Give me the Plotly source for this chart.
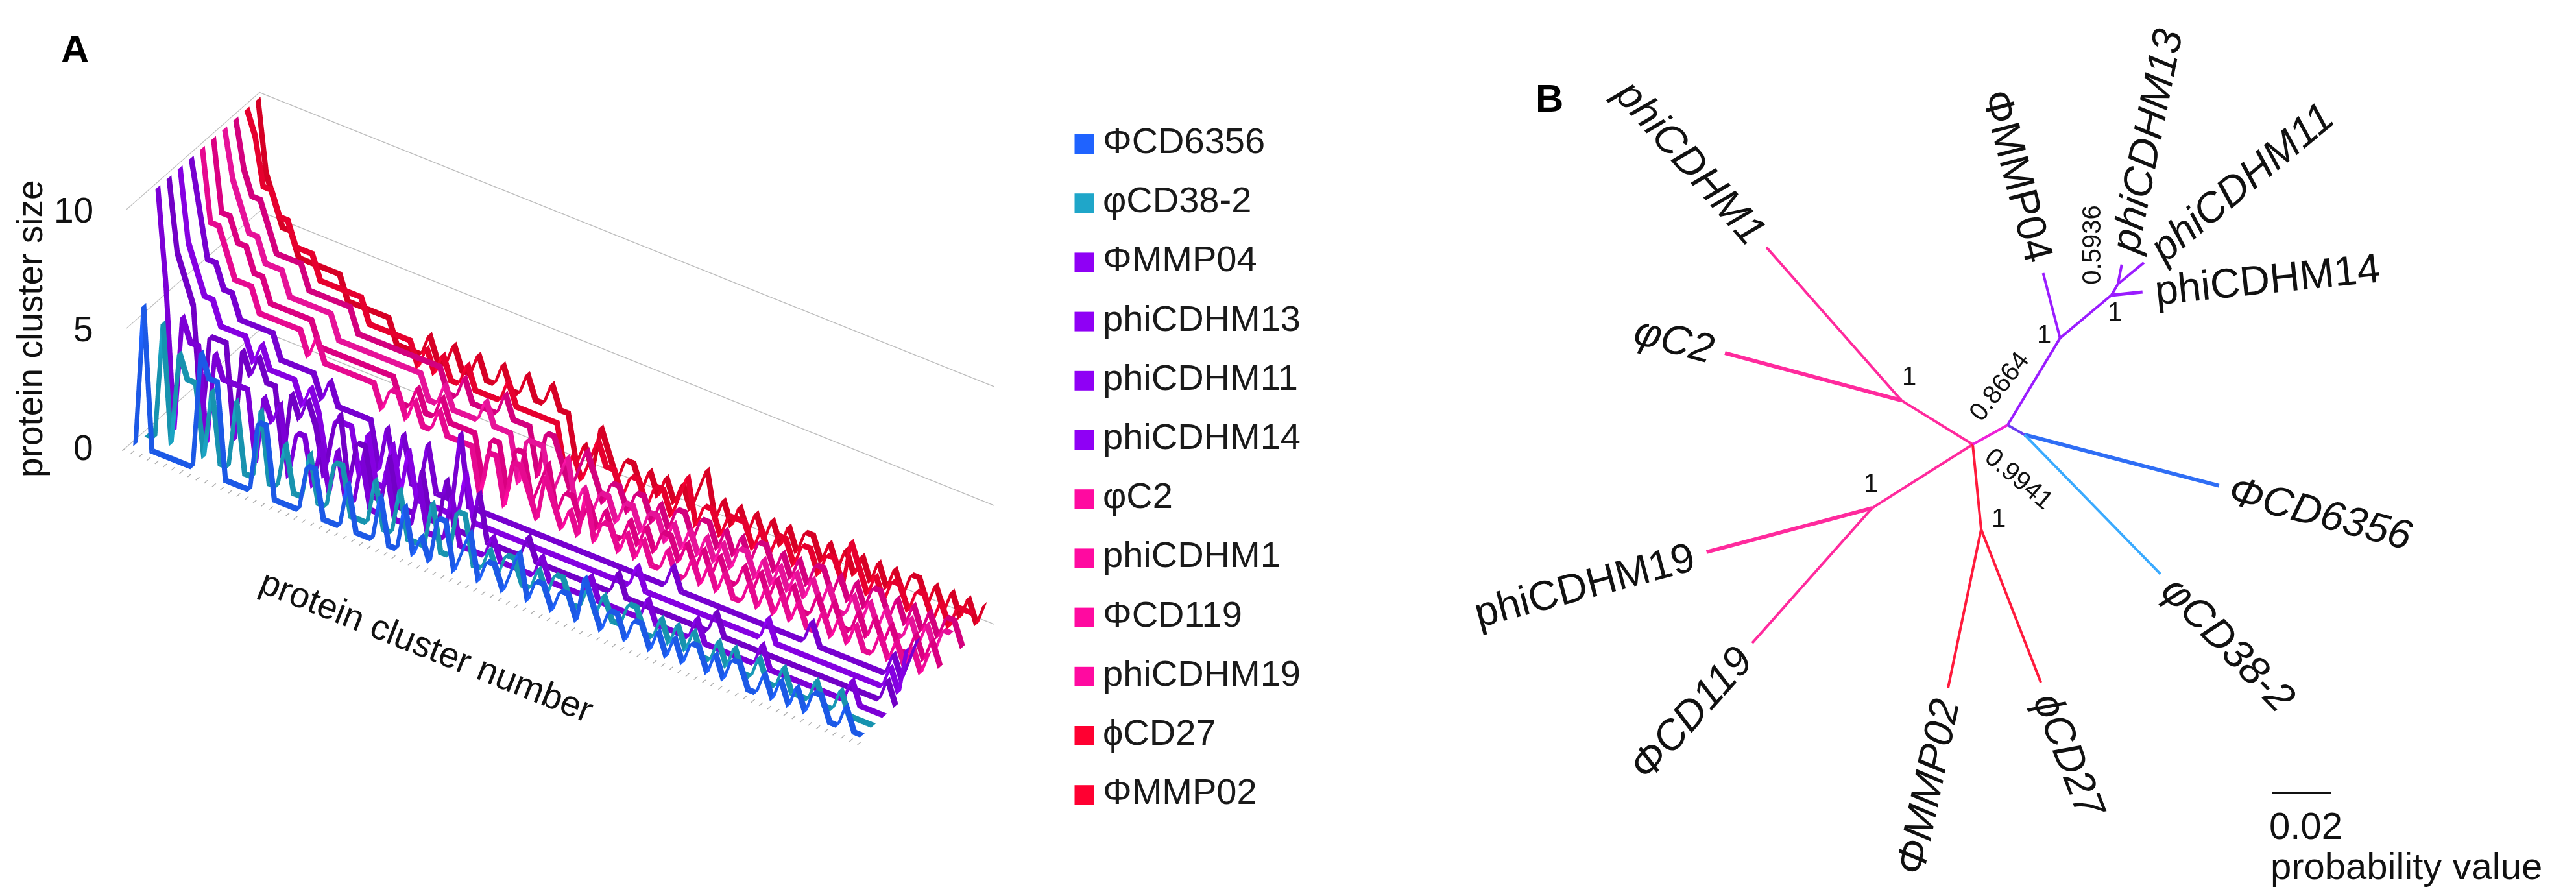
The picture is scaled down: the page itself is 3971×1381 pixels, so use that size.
import math
import plotly.graph_objects as go

W, H = 3971, 1381
FONT = "Liberation Sans, Arial, sans-serif"

# ---------------- panel A: protein cluster sizes per phage ----------------
phages = ["ΦCD6356", "φCD38-2", "ΦMMP04", "phiCDHM13", "phiCDHM11", "phiCDHM14",
          "φC2", "phiCDHM1", "ΦCD119", "phiCDHM19", "ϕCD27", "ΦMMP02"]
legend_colors = ["#1f63ff", "#1fa6c9", "#8f00f5", "#8f00f5", "#8f00f5", "#8f00f5",
                 "#ff0aa0", "#ff0aa0", "#ff0aa0", "#ff0aa0", "#ff0031", "#ff0031"]
ribbon_colors = ["#1f63ff", "#1aa3c2", "#8a00ee", "#7f00dc", "#9400fa", "#8400e6",
                 "#ff0aa0", "#f2008f", "#ff14aa", "#ea008c", "#ff0033", "#ee0029"]
clusters = list(range(1, 91))

cd6356 = [0, 6, 0, 0, 0, 0, 0, 0, 5, 4, 4, 0, 0, 0, 0, 3, 3, 0, 0, 0,
          0, 2, 2, 0, 0, 0, 2, 0, 0, 0, 2, 0, 0, 2, 0, 1, 0, 2, 2, 0,
          1, 2, 0, 1, 1, 0, 1, 2, 0, 1, 1, 0, 1, 1, 0, 2, 1, 0, 1, 1,
          0, 1, 1, 0, 1, 0, 1, 0, 1, 1, 0, 1, 0, 1, 1, 0, 0, 1, 0, 1,
          0, 1, 0, 1, 1, 0, 0, 1, 0, 0]
cd38_2 = [0, 0, 5, 0, 4, 3, 3, 0, 3, 0, 0, 3, 0, 0, 3, 0, 0, 2, 0, 0,
          2, 0, 0, 2, 2, 0, 0, 0, 2, 0, 0, 2, 0, 0, 0, 2, 0, 0, 2, 2,
          0, 0, 1, 0, 1, 1, 0, 0, 1, 0, 1, 1, 0, 0, 1, 0, 1, 0, 0, 1,
          1, 0, 0, 1, 0, 1, 0, 1, 0, 0, 1, 0, 1, 0, 0, 1, 0, 0, 1, 0,
          0, 0, 1, 0, 0, 1, 0, 0, 0, 0]
mmp04 = [10, 6, 0, 5, 4, 4, 0, 4, 3, 3, 3, 3, 0, 3, 2, 3, 0, 2, 2, 0,
         2, 0, 2, 0, 0, 2, 0, 0, 2, 0, 0, 0, 2, 0, 0, 0, 2, 0, 0, 0,
         0, 1, 0, 0, 0, 0, 0, 1, 0, 0, 0, 0, 0, 1, 0, 0, 0, 0, 0, 0,
         1, 0, 0, 0, 0, 0, 1, 0, 0, 0, 0, 0, 0, 0, 1, 0, 0, 0, 0, 0,
         0, 0, 0, 0, 0, 1, 0, 0, 0, 0]
cdhm13 = [10, 7, 6, 5, 0, 4, 4, 4, 0, 4, 3, 4, 3, 3, 0, 3, 2, 3, 2, 0,
          2, 3, 0, 2, 2, 0, 0, 2, 0, 0, 0, 2, 0, 0, 2, 0, 0, 0, 2, 0,
          0, 0, 0, 0, 1, 0, 0, 0, 0, 0, 0, 0, 0, 0, 0, 1, 0, 0, 0, 0,
          0, 0, 0, 0, 0, 0, 0, 1, 0, 0, 0, 0, 0, 0, 0, 0, 0, 0, 0, 0,
          0, 0, 0, 0, 0, 0, 0, 0, 1, 0]
cdhm11 = [10, 7, 6, 5, 5, 4, 4, 4, 4, 3, 4, 3, 3, 3, 3, 2, 3, 2, 0, 2,
          2, 2, 0, 2, 0, 0, 2, 0, 2, 0, 0, 0, 0, 0, 0, 2, 0, 0, 0, 0,
          0, 0, 0, 0, 0, 0, 0, 0, 0, 0, 0, 0, 0, 0, 0, 0, 1, 0, 0, 0,
          0, 0, 0, 0, 0, 0, 0, 0, 0, 0, 0, 0, 1, 0, 0, 0, 0, 0, 0, 0,
          0, 0, 0, 0, 0, 0, 0, 1, 0, 2]
cdhm14 = [10, 8, 6, 6, 5, 5, 4, 4, 4, 4, 4, 3, 3, 3, 3, 3, 2, 3, 2, 2,
          2, 2, 2, 0, 2, 0, 2, 0, 0, 2, 0, 0, 0, 3, 0, 0, 0, 0, 0, 0,
          0, 0, 0, 0, 0, 0, 0, 0, 0, 0, 0, 0, 0, 0, 0, 0, 0, 0, 0, 1,
          0, 0, 0, 0, 0, 0, 0, 0, 0, 0, 0, 0, 0, 0, 0, 0, 1, 0, 0, 0,
          0, 0, 0, 0, 0, 0, 1, 0, 1, 2]
c2 = [10, 7, 7, 6, 5, 5, 5, 4, 4, 4, 4, 4, 4, 3, 4, 3, 3, 3, 3, 3,
      3, 3, 2, 3, 3, 2, 3, 2, 2, 3, 2, 2, 2, 2, 0, 2, 2, 0, 2, 2,
      1, 0, 2, 1, 0, 1, 0, 2, 0, 1, 1, 0, 1, 0, 1, 0, 0, 1, 0, 0,
      1, 0, 1, 0, 1, 0, 0, 1, 0, 1, 0, 1, 0, 1, 0, 0, 1, 0, 1, 0,
      1, 0, 0, 1, 0, 1, 0, 1, 0, 1]
cdhm1 = [10, 7, 7, 6, 6, 5, 5, 4, 4, 4, 4, 4, 4, 3, 3, 3, 3, 3, 3, 3,
         3, 3, 3, 2, 2, 3, 2, 2, 3, 2, 2, 2, 2, 0, 2, 2, 0, 2, 2, 0,
         1, 2, 0, 1, 1, 0, 1, 0, 1, 0, 0, 1, 0, 1, 0, 1, 1, 0, 1, 0,
         1, 0, 1, 0, 0, 1, 0, 1, 0, 1, 0, 1, 0, 0, 1, 0, 1, 0, 0, 1,
         0, 1, 0, 1, 0, 0, 1, 0, 1, 0]
cd119 = [10, 8, 7, 6, 6, 5, 5, 5, 4, 4, 4, 4, 4, 4, 3, 3, 3, 3, 3, 3,
         3, 3, 3, 3, 3, 2, 2, 3, 2, 2, 2, 2, 3, 2, 2, 2, 0, 2, 2, 2,
         0, 1, 2, 0, 1, 0, 1, 1, 0, 1, 1, 0, 1, 1, 0, 1, 0, 1, 0, 1,
         0, 1, 0, 1, 1, 0, 1, 0, 1, 0, 1, 0, 1, 0, 1, 0, 0, 1, 0, 1,
         0, 1, 0, 0, 1, 0, 1, 0, 1, 1]
cdhm19 = [10, 8, 7, 7, 6, 5, 5, 5, 5, 4, 4, 4, 4, 4, 4, 3, 3, 3, 3, 3,
          3, 3, 3, 3, 3, 3, 2, 2, 3, 2, 2, 2, 2, 3, 2, 2, 2, 0, 2, 2,
          1, 0, 1, 2, 1, 0, 1, 1, 0, 1, 1, 0, 1, 0, 1, 1, 0, 1, 1, 0,
          1, 0, 1, 0, 1, 1, 0, 1, 0, 1, 0, 1, 1, 0, 1, 0, 1, 0, 1, 1,
          0, 1, 0, 1, 0, 1, 0, 1, 1, 0]
cd27 = [10, 9, 7, 7, 6, 6, 5, 5, 5, 4, 4, 4, 4, 4, 4, 3, 3, 3, 3, 3,
        3, 2, 3, 2, 3, 2, 2, 3, 2, 2, 2, 2, 3, 2, 2, 2, 2, 2, 2, 0,
        1, 0, 1, 2, 1, 1, 0, 1, 1, 0, 1, 1, 0, 1, 2, 0, 1, 1, 0, 1,
        1, 1, 0, 1, 0, 1, 1, 0, 1, 1, 0, 1, 1, 0, 2, 1, 0, 1, 0, 1,
        1, 0, 1, 1, 0, 1, 0, 1, 1, 1]
mmp02 = [10, 7, 6, 5, 5, 4, 4, 4, 4, 4, 4, 3, 3, 3, 3, 3, 3, 2, 2, 2,
         2, 3, 2, 2, 3, 2, 2, 3, 2, 2, 3, 2, 2, 3, 2, 2, 3, 2, 2, 0,
         1, 0, 2, 1, 0, 1, 1, 0, 1, 0, 1, 0, 1, 0, 1, 2, 0, 1, 0, 1,
         0, 1, 0, 1, 0, 1, 0, 1, 1, 0, 1, 0, 1, 0, 1, 0, 1, 0, 1, 0,
         1, 1, 0, 1, 0, 1, 0, 1, 0, 1]
cluster_sizes = [cd6356, cd38_2, mmp04, cdhm13, cdhm11, cdhm14,
                 c2, cdhm1, cd119, cdhm19, cd27, mmp02]
size_ticks = [0, 5, 10]

# ---------------- panel B: unrooted tree ----------------
tree_parent = ["C", "N1", "N1", "C", "N2", "N2", "C", "N3", "N3", "C",
               "P", "B", "B", "P", "Q", "Q", "R", "R", "S", "S"]
tree_child = ["N1", "phiCDHM1", "φC2", "N2", "phiCDHM19", "ΦCD119", "N3", "ΦMMP02", "ϕCD27", "P",
              "B", "ΦCD6356", "φCD38-2", "Q", "ΦMMP04", "R", "phiCDHM14", "S", "phiCDHM13", "phiCDHM11"]
branch_len = [0.0281, 0.0684, 0.0612, 0.0399, 0.0574, 0.0605, 0.0286, 0.0544, 0.0551, 0.0134,
              0.0065, 0.0674, 0.0653, 0.0340, 0.0225, 0.0224, 0.0105, 0.0043, 0.0067, 0.0113]
branch_angle = [148.3, 131.4, 165.0, 212.3, 194.9, 228.4, 275.7, 258.2, 291.3, 29.1,
                330.0, 345.3, 314.3, 58.9, 104.6, 39.9, 5.9, 59.5, 78.7, 39.5]
branch_color = ["#ff2a9d", "#ff2a9d", "#ff2a9d", "#ff2a9d", "#ff2a9d", "#ff2a9d",
                "#ff1a3c", "#ff1a3c", "#ff1a3c", "#ee22d8",
                "#6a3cf0", "#2f6ef5", "#3aaaff", "#9a1cff", "#9a1cff", "#9a1cff",
                "#9a1cff", "#9a1cff", "#9a1cff", "#9a1cff"]
branch_width = [4, 4, 6, 4, 6, 4, 4, 4, 4, 4, 4, 6, 4, 4, 4, 4, 5, 4, 4, 4]
italic_labels = ["phiCDHM1", "φC2", "phiCDHM13", "phiCDHM11", "ΦCD6356", "φCD38-2",
                 "ΦCD119", "ΦMMP02", "ϕCD27"]
support_node = ["N1", "N2", "N3", "Q", "R", "S", "P", "C"]
support_text = ["1", "1", "1", "1", "1", "0.5936", "0.8664", "0.9941"]
support_shift = [(12, 38), (-2, 39), (27, 18), (-25, 6), (5, -25), (-41, 60), (-14, 60), (72, -52)]
support_angle = [0, 0, 0, 0, 0, -90, -52, 40]
scale_bar = 0.02

fig = go.Figure()

# 3D line chart drawn as ribbons (one per phage)
RIBBON = 0.22
for k, vals in enumerate(cluster_sizes):
    col = ribbon_colors[k]
    fig.add_trace(go.Surface(
        x=clusters, y=[k + 1 - RIBBON, k + 1 + RIBBON], z=[vals, vals],
        surfacecolor=[[0] * len(vals), [0] * len(vals)],
        colorscale=[[0, col], [1, col]], cmin=0, cmax=1, showscale=False,
        lighting=dict(ambient=0.9, diffuse=0.3, specular=0.02, roughness=0.9, fresnel=0.1),
        lightposition=dict(x=1000, y=-3000, z=10000),
        hoverinfo="skip", name=phages[k], scene="scene"))

# legend drawn as square markers + names (x axis in pixels)
legend_y = list(range(len(phages) - 1, -1, -1))
fig.add_trace(go.Scatter(
    x=[15.5] * len(phages), y=legend_y, mode="markers",
    marker=dict(symbol="square", size=30, color=legend_colors, line=dict(width=0)),
    xaxis="x3", yaxis="y3", showlegend=False, hoverinfo="skip", cliponaxis=False))
fig.add_trace(go.Scatter(
    x=[44] * len(phages), y=legend_y, mode="text",
    text=phages, textposition="middle right",
    textfont=dict(size=56, color="#1a1a1a", family=FONT),
    xaxis="x3", yaxis="y3", showlegend=False, hoverinfo="skip", cliponaxis=False))

# tree
char_w = {"p": .556, "h": .556, "i": .222, "C": .722, "D": .722, "H": .722, "M": .833,
          "P": .667, "Φ": .76, "φ": .62, "ϕ": .62, "-": .333}
LABEL_SIZE = 64

pos = {"C": (0.0, 0.0)}
annotations = []
for p, c, L, a, col, w in zip(tree_parent, tree_child, branch_len, branch_angle,
                              branch_color, branch_width):
    x0, y0 = pos[p]
    ux, uy = math.cos(math.radians(a)), math.sin(math.radians(a))
    x1, y1 = x0 + L * ux, y0 + L * uy
    pos[c] = (x1, y1)
    fig.add_trace(go.Scatter(x=[x0, x1], y=[y0, y1], mode="lines",
                             line=dict(color=col, width=w), xaxis="x2", yaxis="y2",
                             showlegend=False, hoverinfo="skip"))
    if c in phages:
        theta = (a + 180) % 360 - 180
        ta = -theta if ux >= 0 else 180 - theta
        ta = (ta + 180) % 360 - 180
        half = LABEL_SIZE * sum(char_w.get(ch, .556) for ch in c) / 2
        d = 20 + half
        txt = "<i>%s</i>" % c if c in italic_labels else c
        annotations.append(dict(x=x1, y=y1, xref="x2", yref="y2", text=txt,
                                showarrow=False, textangle=ta, xanchor="center",
                                yanchor="middle", xshift=ux * d, yshift=uy * d,
                                font=dict(size=LABEL_SIZE, color="#111", family=FONT)))

for n, t, (sx, sy), ang in zip(support_node, support_text, support_shift, support_angle):
    annotations.append(dict(x=pos[n][0], y=pos[n][1], xref="x2", yref="y2", text=t,
                            showarrow=False, textangle=ang, xshift=sx, yshift=sy,
                            xanchor="center", yanchor="middle",
                            font=dict(size=40, color="#111", family=FONT)))

# scale bar
PX_UNIT = 4600.0
bx, by = (3494 - 3033) / PX_UNIT, -(1214 - 677) / PX_UNIT
fig.add_trace(go.Scatter(x=[bx, bx + scale_bar], y=[by, by], mode="lines",
                         line=dict(color="#111", width=4), xaxis="x2", yaxis="y2",
                         showlegend=False, hoverinfo="skip"))
annotations.append(dict(x=bx, y=by, xref="x2", yref="y2", text="0.02", showarrow=False,
                        xanchor="left", yanchor="middle", yshift=-50, xshift=-6,
                        font=dict(size=58, color="#111", family=FONT)))
annotations.append(dict(x=bx, y=by, xref="x2", yref="y2", text="probability value",
                        showarrow=False, xanchor="left", yanchor="middle", yshift=-112,
                        xshift=-4, font=dict(size=58, color="#111", family=FONT)))

# panel letters and y title
annotations.append(dict(x=107 / W, y=1 - 67 / H, xref="paper", yref="paper", text="<b>A</b>",
                        showarrow=False, xanchor="center", yanchor="middle",
                        font=dict(size=60, color="#000", family=FONT)))
annotations.append(dict(x=2380 / W, y=1 - 143 / H, xref="paper", yref="paper", text="<b>B</b>",
                        showarrow=False, xanchor="center", yanchor="middle",
                        font=dict(size=60, color="#000", family=FONT)))
annotations.append(dict(x=38 / W, y=1 - 499 / H, xref="paper", yref="paper",
                        text="protein cluster size", textangle=-90, showarrow=False,
                        xanchor="center", yanchor="middle",
                        font=dict(size=55, color="#111", family=FONT)))

scene_ann = [dict(x=0.5, y=0.5, z=v, text=str(v), showarrow=False, xanchor="right",
                  yanchor="middle", xshift=-48, font=dict(size=55, color="#111", family=FONT))
             for v in size_ticks]
scene_ann.append(dict(x=37.7, y=0.5, z=0, text="protein cluster number", showarrow=False,
                      textangle=21.8, yshift=-118, xshift=-5, xanchor="center",
                      yanchor="middle", font=dict(size=55, color="#111", family=FONT)))

axis_off = dict(showgrid=False, zeroline=False, showline=False, showbackground=False,
                showticklabels=False, ticks="", showspikes=False, title=dict(text=""))

fig.update_layout(
    width=W, height=H, margin=dict(l=0, r=0, t=0, b=0),
    paper_bgcolor="white", plot_bgcolor="white", showlegend=False,
    font=dict(family=FONT),
    annotations=annotations,
    scene=dict(
        domain=dict(x=[0, 1711 / W], y=[1 - 1248 / H, 1]),
        aspectmode="manual", aspectratio=dict(x=2.19, y=0.590, z=0.773),
        camera=dict(projection=dict(type="orthographic"),
                    eye=dict(x=1.107, y=-1.641, z=1.460),
                    up=dict(x=0, y=0, z=1), center=dict(x=0, y=0, z=0)),
        xaxis=dict(axis_off, range=[0.5, 90.5], ticks="outside", tickmode="linear",
                   tick0=0.5, dtick=1, ticklen=22, tickwidth=3, tickcolor="#ababab"),
        yaxis=dict(axis_off, range=[0.5, 12.5]),
        zaxis=dict(axis_off, range=[0, 10.6], showgrid=True, gridcolor="#bdbdbd",
                   gridwidth=3, tickvals=size_ticks),
        annotations=scene_ann,
        bgcolor="rgba(0,0,0,0)"),
    xaxis2=dict(domain=[2300 / W, 1], range=[(2300 - 3033) / PX_UNIT, (W - 3033) / PX_UNIT],
                visible=False),
    yaxis2=dict(domain=[0, 1], range=[-(H - 677) / PX_UNIT, 677 / PX_UNIT], visible=False),
    xaxis3=dict(domain=[1648 / W, 2300 / W], range=[0, 652], visible=False),
    yaxis3=dict(domain=[1 - 1262.8 / H, 1 - 168.4 / H], range=[-0.5, 11.5], visible=False),
)

fig.write_html("out.html")
